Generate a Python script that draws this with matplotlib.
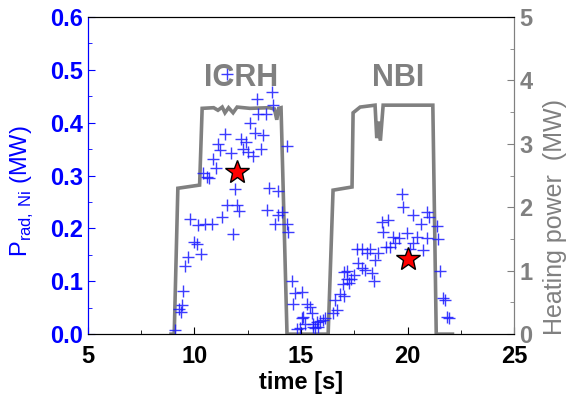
import numpy as np
import matplotlib
matplotlib.use("Agg")
import matplotlib.pyplot as plt
from matplotlib.ticker import MultipleLocator

plt.rcParams['font.family'] = ['Liberation Sans', 'DejaVu Sans']

# heating power (MW) vs time (s)
heat_t = [8.90, 9.05, 9.22, 10.24, 10.36, 10.9, 11.1, 11.3, 11.43, 11.6, 11.81, 12.0,
          12.6, 13.5, 13.75, 13.86, 13.95, 14.06, 14.34, 16.27, 16.50, 17.39, 17.44,
          17.77, 18.47, 18.55, 18.62, 18.72, 18.85, 21.18, 21.34, 22.10]
heat_p = [0, 0, 2.30, 2.35, 3.56, 3.57, 3.53, 3.58, 3.49, 3.57, 3.49, 3.58,
          3.56, 3.57, 3.55, 3.38, 3.56, 3.57, 0, 0, 2.27, 2.32, 3.49,
          3.58, 3.61, 3.09, 3.35, 3.05, 3.61, 3.61, 0, 0]

# P_rad,Ni (MW)
prad_t = [9.08, 9.29, 9.36, 9.40, 9.47, 9.55, 9.71, 9.79, 9.99, 10.10, 10.18, 10.29,
          10.41, 10.49, 10.57, 10.70, 10.81, 10.88, 11.01, 11.12, 11.20, 11.31, 11.43,
          11.51, 11.51, 11.71, 11.79, 11.90, 12.01, 12.10, 12.18, 12.29, 12.42, 12.53,
          12.61, 12.73, 12.84, 12.92, 13.00, 13.12, 13.23, 13.36, 13.39, 13.51, 13.62,
          13.70, 13.78, 13.93, 13.93, 14.09, 14.33, 14.33, 14.41, 14.56, 14.64, 14.72,
          14.80, 14.95, 15.03, 15.03, 15.11, 15.19, 15.27, 15.42, 15.50, 15.58, 15.58,
          15.66, 15.73, 15.81, 15.89, 16.05, 16.13,
          16.51, 16.60, 16.67, 16.83, 16.96, 16.99, 16.99, 17.14, 17.14, 17.25, 17.35,
          17.46, 17.61, 17.69, 17.84, 17.85, 18.00, 18.08, 18.21, 18.32, 18.43, 18.47,
          18.63, 18.79, 18.83, 18.99, 19.10, 19.18, 19.33, 19.41, 19.57, 19.73, 19.80,
          19.96, 20.12, 20.24, 20.27, 20.43, 20.63, 20.74, 20.90, 20.90, 20.98, 21.37,
          21.42, 21.53, 21.64, 21.73, 21.84, 21.95]
prad_p = [0.008, 0.047, 0.042, 0.055, 0.081, 0.128, 0.146, 0.217, 0.174, 0.170, 0.206, 0.152,
          0.304, 0.208, 0.298, 0.295, 0.208, 0.331, 0.314, 0.359, 0.348, 0.221, 0.379,
          0.244, 0.493, 0.342, 0.189, 0.274, 0.244, 0.233, 0.370, 0.350, 0.364, 0.345,
          0.400, 0.337, 0.381, 0.444, 0.416, 0.350, 0.377, 0.416, 0.235, 0.277, 0.459,
          0.433, 0.208, 0.270, 0.225, 0.232, 0.356, 0.208, 0.194, 0.100, 0.057, 0.078,
          0.009, 0.011, 0.080, 0.030, 0.033, 0.020, 0.057, 0.052, 0.040, 0.020, 0.014,
          0.011, 0.023, 0.014, 0.024, 0.026, 0.030,
          0.040, 0.064, 0.045, 0.076, 0.095, 0.118, 0.072, 0.105, 0.120, 0.096, 0.104,
          0.112, 0.162, 0.135, 0.162, 0.126, 0.121, 0.153, 0.162, 0.115, 0.100, 0.140,
          0.153, 0.213, 0.194, 0.165, 0.216, 0.165, 0.183, 0.172, 0.181, 0.266, 0.240,
          0.191, 0.162, 0.225, 0.172, 0.184, 0.209, 0.159, 0.232, 0.181, 0.222, 0.205,
          0.180, 0.120, 0.069, 0.064, 0.033, 0.030]

star_t = [12.0, 20.0]
star_p = [0.307, 0.143]

BLUE = '#0000ff'
GREY = '#808080'

fig = plt.figure(figsize=(5.67, 4.05), dpi=100)
ax = fig.add_axes([0.155, 0.175, 0.752, 0.783])
ax2 = ax.twinx()
ax.set_zorder(ax2.get_zorder() + 1)
ax.patch.set_visible(False)

ax2.plot(heat_t, heat_p, color=GREY, lw=2.6, solid_joinstyle='miter')
ax.plot(prad_t, prad_p, '+', color='#1a1aff', ms=8, mew=1.0, alpha=0.85)
ax.plot(star_t, star_p, '*', color='red', mec='black', mew=1.0, ms=18)

ax.text(12.17, 0.484, 'ICRH', color=GREY, fontsize=22, fontweight='bold',
        ha='center', va='center')
ax.text(19.55, 0.484, 'NBI', color=GREY, fontsize=22, fontweight='bold',
        ha='center', va='center')

ax.set_xlim(5, 25)
ax.set_ylim(0, 0.6)
ax2.set_ylim(0, 5)

ax.xaxis.set_major_locator(MultipleLocator(5))
ax.xaxis.set_minor_locator(MultipleLocator(2.5))
ax.yaxis.set_major_locator(MultipleLocator(0.1))
ax.yaxis.set_minor_locator(MultipleLocator(0.05))
ax2.yaxis.set_major_locator(MultipleLocator(1))
ax2.yaxis.set_minor_locator(MultipleLocator(0.5))
ax.yaxis.set_major_formatter(plt.FormatStrFormatter('%.1f'))

ax.tick_params(axis='x', which='both', direction='in', labelsize=17, pad=8)
ax.tick_params(axis='x', which='major', length=5)
ax.tick_params(axis='x', which='minor', length=3)
ax.tick_params(axis='y', which='both', direction='in', colors=BLUE, labelsize=17)
ax.tick_params(axis='y', which='major', length=5)
ax.tick_params(axis='y', which='minor', length=3)
ax2.tick_params(axis='y', which='both', direction='in', colors=GREY, labelsize=17)
ax2.tick_params(axis='y', which='major', length=5)
ax2.tick_params(axis='y', which='minor', length=3)
for lbl in ax.get_xticklabels() + ax.get_yticklabels() + ax2.get_yticklabels():
    lbl.set_fontweight('bold')

ax.spines['left'].set_color(BLUE)
ax2.spines['left'].set_color(BLUE)
ax.spines['right'].set_color(GREY)
ax2.spines['right'].set_color(GREY)

ax.set_xlabel('time [s]', fontsize=17, fontweight='bold', labelpad=2)
ax.set_ylabel(r'P$_{\mathregular{rad,\,Ni}}$ (MW)', color=BLUE, fontsize=17)
ax.yaxis.set_label_coords(-0.122, 0.45)
ax2.set_ylabel('Heating power  (MW)', color=GREY, fontsize=18)
ax2.yaxis.set_label_coords(1.068, 0.37)

fig.savefig('out.png', dpi=100)
